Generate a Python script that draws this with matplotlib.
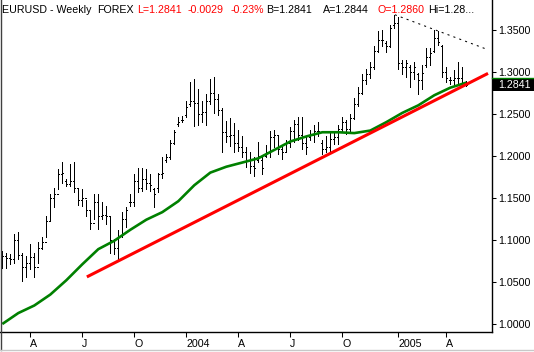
import matplotlib
matplotlib.use('Agg')
import matplotlib.pyplot as plt
import matplotlib.dates as mdates
from matplotlib.collections import LineCollection
from matplotlib.lines import Line2D
from matplotlib.patches import Rectangle
import numpy as np
import pandas as pd

plt.rcParams['font.family'] = ['Liberation Sans', 'DejaVu Sans']

# ---------------- data ----------------
start_date = '2003-02-14'
n_bars = 117

highs = [1.087, 1.085, 1.083, 1.107, 1.109, 1.085, 1.081, 1.095, 1.085, 1.098,
         1.104, 1.128, 1.154, 1.162, 1.184, 1.193, 1.172, 1.190, 1.193, 1.162,
         1.160, 1.148, 1.134, 1.154, 1.154, 1.145, 1.140, 1.127, 1.101, 1.112,
         1.133, 1.139, 1.154, 1.178, 1.186, 1.186, 1.184, 1.178, 1.162, 1.180,
         1.198, 1.202, 1.219, 1.231, 1.246, 1.247, 1.265, 1.288, 1.291, 1.279,
         1.265, 1.273, 1.291, 1.294, 1.273, 1.257, 1.241, 1.245, 1.239, 1.231,
         1.223, 1.210, 1.204, 1.199, 1.217, 1.198, 1.213, 1.229, 1.231, 1.223,
         1.210, 1.219, 1.234, 1.243, 1.246, 1.246, 1.222, 1.231, 1.237, 1.240,
         1.219, 1.223, 1.229, 1.228, 1.237, 1.246, 1.243, 1.250, 1.269, 1.282,
         1.297, 1.303, 1.311, 1.330, 1.348, 1.350, 1.336, 1.356, 1.368, 1.365,
         1.314, 1.314, 1.308, 1.311, 1.299, 1.308, 1.328, 1.328, 1.350, 1.348,
         1.332, 1.306, 1.294, 1.302, 1.312, 1.306, 1.2884]

lows = [1.067, 1.067, 1.071, 1.073, 1.077, 1.051, 1.056, 1.065, 1.056, 1.073,
        1.089, 1.104, 1.122, 1.139, 1.160, 1.168, 1.164, 1.164, 1.157, 1.142,
        1.140, 1.128, 1.113, 1.125, 1.113, 1.125, 1.119, 1.085, 1.083, 1.075,
        1.104, 1.115, 1.140, 1.140, 1.157, 1.158, 1.160, 1.158, 1.139, 1.157,
        1.174, 1.193, 1.196, 1.214, 1.235, 1.240, 1.246, 1.259, 1.235, 1.237,
        1.240, 1.237, 1.261, 1.251, 1.249, 1.205, 1.217, 1.212, 1.205, 1.206,
        1.198, 1.187, 1.180, 1.176, 1.193, 1.178, 1.198, 1.199, 1.210, 1.202,
        1.196, 1.204, 1.210, 1.216, 1.219, 1.208, 1.202, 1.219, 1.216, 1.223,
        1.202, 1.204, 1.205, 1.214, 1.214, 1.228, 1.226, 1.228, 1.244, 1.259,
        1.273, 1.285, 1.293, 1.303, 1.324, 1.330, 1.323, 1.329, 1.352, 1.303,
        1.297, 1.294, 1.282, 1.291, 1.273, 1.279, 1.305, 1.308, 1.323, 1.332,
        1.294, 1.288, 1.285, 1.285, 1.287, 1.287, 1.2834]

closes = [1.081, 1.078, 1.077, 1.100, 1.082, 1.068, 1.072, 1.080, 1.068, 1.090,
          1.098, 1.122, 1.150, 1.155, 1.178, 1.180, 1.167, 1.170, 1.162, 1.148,
          1.150, 1.135, 1.120, 1.145, 1.128, 1.130, 1.128, 1.100, 1.090, 1.105,
          1.125, 1.135, 1.145, 1.170, 1.162, 1.172, 1.168, 1.165, 1.155, 1.178,
          1.180, 1.198, 1.215, 1.228, 1.240, 1.243, 1.258, 1.265, 1.263, 1.250,
          1.252, 1.265, 1.275, 1.268, 1.255, 1.228, 1.223, 1.225, 1.215, 1.210,
          1.205, 1.195, 1.188, 1.185, 1.200, 1.185, 1.205, 1.222, 1.225, 1.208,
          1.205, 1.215, 1.230, 1.238, 1.225, 1.215, 1.210, 1.225, 1.230, 1.230,
          1.208, 1.210, 1.220, 1.222, 1.232, 1.240, 1.232, 1.245, 1.262, 1.275,
          1.290, 1.297, 1.305, 1.325, 1.338, 1.338, 1.330, 1.352, 1.358, 1.310,
          1.305, 1.310, 1.300, 1.305, 1.290, 1.298, 1.318, 1.322, 1.340, 1.335,
          1.300, 1.293, 1.290, 1.292, 1.293, 1.287, 1.2841]

opens = [1.075, 1.081, 1.078, 1.077, 1.100, 1.082, 1.068, 1.072, 1.080, 1.068,
         1.090, 1.098, 1.122, 1.150, 1.155, 1.178, 1.170, 1.167, 1.170, 1.162,
         1.148, 1.150, 1.135, 1.120, 1.145, 1.128, 1.130, 1.128, 1.100, 1.090,
         1.105, 1.125, 1.145, 1.145, 1.170, 1.162, 1.172, 1.168, 1.160, 1.162,
         1.178, 1.195, 1.198, 1.215, 1.238, 1.242, 1.248, 1.262, 1.265, 1.263,
         1.250, 1.252, 1.265, 1.275, 1.268, 1.255, 1.228, 1.223, 1.225, 1.215,
         1.210, 1.205, 1.195, 1.188, 1.195, 1.195, 1.200, 1.205, 1.222, 1.225,
         1.208, 1.205, 1.215, 1.230, 1.238, 1.225, 1.215, 1.222, 1.225, 1.230,
         1.215, 1.208, 1.210, 1.220, 1.222, 1.232, 1.240, 1.232, 1.245, 1.262,
         1.275, 1.290, 1.297, 1.305, 1.325, 1.338, 1.334, 1.330, 1.355, 1.358,
         1.310, 1.305, 1.305, 1.300, 1.297, 1.290, 1.308, 1.318, 1.325, 1.340,
         1.330, 1.300, 1.290, 1.290, 1.292, 1.293, 1.2860]

# 40-week moving average at every 4th bar
ma_bar_index = [0, 4, 8, 12, 16, 20, 24, 28, 32, 36, 40, 44, 48, 52, 56, 60,
                64, 68, 72, 76, 80, 84, 88, 92, 96, 100, 104, 108, 112, 116]
ma_values = [1.000, 1.013, 1.022, 1.035, 1.052, 1.071, 1.089, 1.099, 1.112, 1.124,
             1.133, 1.146, 1.165, 1.180, 1.187, 1.192, 1.197, 1.207, 1.217, 1.223,
             1.228, 1.228, 1.227, 1.230, 1.240, 1.251, 1.260, 1.272, 1.281, 1.287]

# support trend line (red) and resistance line (dashed)
support_dates = ['2003-07-12', '2005-06-13']
support_values = [1.056, 1.298]
resist_dates = ['2005-01-01', '2005-06-10']
resist_values = [1.3677, 1.3269]

y_ticks = [1.00, 1.05, 1.10, 1.15, 1.20, 1.25, 1.30, 1.35]
quarter_labels = {1: None, 4: 'A', 7: 'J', 10: 'O'}

header = [("EURUSD - Weekly", 2, 'black'), ("FOREX", 97, 'black'),
          ("L=1.2841", 137, 'red'), ("-0.0029", 188, 'red'),
          ("-0.23%", 231, 'red'), ("B=1.2841", 266, 'black'),
          ("A=1.2844", 323, 'black'), ("O=1.2860", 377, 'red'),
          ("Hi=1.28...", 428, 'black')]
last_price = 1.2841

# ---------------- figure ----------------
W, H = 534, 352
fig = plt.figure(figsize=(W / 100, H / 100), dpi=100)
fig.patch.set_facecolor('white')

ax_left_px, ax_right_px = 0.5, 492.3
ax_top_px, ax_bot_px = 0.0, 332.3
ax = fig.add_axes([ax_left_px / W, (H - ax_bot_px) / H,
                   (ax_right_px - ax_left_px) / W, (ax_bot_px - ax_top_px) / H])

dates = pd.date_range(start_date, periods=n_bars, freq='7D')
xd = mdates.date2num(dates.to_pydatetime())
half = 7.0 * 0.3   # open/close tick length (about 1.5 px)

# OHLC bars
segs = []
for x, o, h, l, c in zip(xd, opens, highs, lows, closes):
    segs.append([(x, l), (x, h)])
    segs.append([(x - half, o), (x, o)])
    segs.append([(x, c), (x + half, c)])
ax.add_collection(LineCollection(segs, colors='black', linewidths=0.72,
                                 antialiased=False, zorder=3))

# moving average
ma_x = xd[np.array(ma_bar_index)]
ax.plot(ma_x, ma_values, color='#008000', lw=1.9, zorder=4,
        solid_capstyle='butt')

# support line
sx = mdates.date2num(pd.to_datetime(support_dates).to_pydatetime())
ax.plot(sx, support_values, color='#ff0000', lw=2.2, zorder=5,
        solid_capstyle='butt')

# resistance dashed line
rx = mdates.date2num(pd.to_datetime(resist_dates).to_pydatetime())
ax.plot(rx, resist_values, color='black', lw=0.75, ls=(0, (2, 4)), zorder=5)

# axes limits (pixel mapping: bar i at x = 2.3 + 4 i)
x0 = xd[0]
px_per_day = 4.0 / 7.0
ax.set_xlim(x0 - (2.3 - ax_left_px) / px_per_day,
            x0 + (ax_right_px - 2.3) / px_per_day)
ppu = 841.0
ax.set_ylim(1.0 - (ax_bot_px - 324.0) / ppu, 1.0 + (324.0 - ax_top_px) / ppu)

# spines
for s in ['top', 'left']:
    ax.spines[s].set_visible(False)
for s in ['bottom', 'right']:
    ax.spines[s].set_linewidth(1.0)
    ax.spines[s].set_color('black')

# y ticks on right
ax.yaxis.tick_right()
ax.set_yticks(y_ticks)
ax.set_yticklabels(['%.4f' % v for v in y_ticks])
ax.tick_params(axis='y', direction='out', length=3.0, width=0.75, pad=1.0,
               labelsize=7.7, colors='black')

# x ticks: first bar of each quarter month
tick_x, tick_lab = [], []
for i in range(1, n_bars):
    d, p = dates[i], dates[i - 1]
    if d.month in quarter_labels and d.month != p.month:
        tick_x.append(xd[i])
        lab = quarter_labels[d.month]
        tick_lab.append(str(d.year) if lab is None else lab)
ax.set_xticks(tick_x)
ax.set_xticklabels(tick_lab)
ax.tick_params(axis='x', direction='out', length=3.6, width=0.75, pad=1.0,
               labelsize=7.7, colors='black')
for lab in ax.get_xticklabels():
    lab.set_ha('left')

# header text
for txt, xpx, col in header:
    fig.text(xpx / W, (H - 13) / H, txt, color=col, fontsize=7.7,
             ha='left', va='baseline')

# last price box
box_top, box_bot = 78.3, 90.7
fig.patches.append(Rectangle((ax_right_px / W, (H - box_bot) / H),
                             (W - ax_right_px) / W, (box_bot - box_top) / H,
                             transform=fig.transFigure, facecolor='black',
                             edgecolor='none', zorder=5))
fig.lines.append(Line2D([ax_right_px / W, 1.0], [(H - box_top) / H] * 2,
                        transform=fig.transFigure, color='#008000', lw=1.0,
                        zorder=6))
fig.text(498 / W, (H - (box_top + box_bot) / 2) / H, '%.4f' % last_price,
         color='white', fontsize=7.7, ha='left', va='center', zorder=7)

# window borders
fig.lines.append(Line2D([0.5 / W, 0.5 / W], [(H - 349.5) / H, 1.0],
                        transform=fig.transFigure, color='#404040', lw=1.0))
fig.lines.append(Line2D([0, 1], [(H - 349.5) / H] * 2,
                        transform=fig.transFigure, color='#c8c8c8', lw=1.0))

fig.savefig('out.png', dpi=100, facecolor='white')
